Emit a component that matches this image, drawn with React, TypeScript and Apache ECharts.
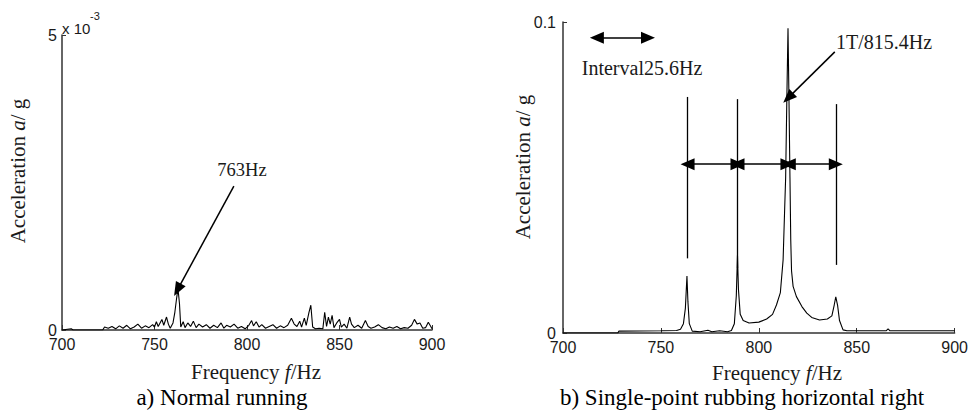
import React, { useEffect, useRef } from 'react';
import * as echarts from 'echarts';

// ---------- data ----------
// a) Normal running, amplitude in 10^-3 g
const leftFreq = [
  700, 705, 706, 722, 723, 725, 727, 729, 731, 733, 735, 737, 739, 741, 743, 745, 747, 749, 750, 751,
  752, 754, 755, 756.5, 757.5, 758.5, 760, 761, 762, 762.7, 763.5, 764.2, 765.5, 766.5, 768, 769.5, 771, 772.5, 774, 776,
  778, 780, 782, 784, 786, 787.5, 789, 791, 793, 795, 797, 799, 801, 802.5, 803.5, 805, 806.5, 808, 810, 812,
  814, 816, 818, 820, 822, 824, 825.5, 827, 828.5, 829.5, 831, 832, 833.5, 834.5, 835.5, 837, 839, 841, 842, 843,
  844, 845, 846, 847, 848.5, 850, 851, 852.5, 854, 855.5, 856.5, 858, 860, 862, 864, 865.5, 867, 869, 871, 873,
  875, 877, 879, 881, 883, 885, 887, 889, 890.5, 892, 893.5, 895, 896.5, 898, 899.5, 900,
];
const leftAmp = [
  0, 0.02, 0, 0, 0.05, 0.03, 0.06, 0.02, 0.07, 0.03, 0.08, 0.02, 0.05, 0.1, 0.03, 0.07, 0.04, 0.09, 0.05, 0.14,
  0.06, 0.18, 0.08, 0.22, 0.1, 0.03, 0.12, 0.3, 0.55, 0.7, 0.45, 0.05, 0.14, 0.04, 0.12, 0.06, 0.15, 0.04, 0.1, 0.05,
  0.09, 0.03, 0.08, 0.04, 0.12, 0.03, 0.08, 0.05, 0.1, 0.03, 0.06, 0.02, 0.08, 0.16, 0.07, 0.14, 0.05, 0.09, 0.03, 0.06,
  0.09, 0.03, 0.07, 0.04, 0.08, 0.2, 0.1, 0.06, 0.15, 0.05, 0.2, 0.08, 0.3, 0.42, 0.05, 0.02, 0.03, 0.02, 0.3, 0.06,
  0.22, 0.1, 0.25, 0.04, 0.12, 0.18, 0.05, 0.1, 0.03, 0.22, 0.1, 0.04, 0.08, 0.03, 0.16, 0.06, 0.03, 0.05, 0.09, 0.04,
  0.02, 0.05, 0.03, 0.06, 0.02, 0.04, 0.03, 0.08, 0.18, 0.1, 0.12, 0.03, 0.04, 0.13, 0.05, 0.02,
];

// b) Single-point rubbing horizontal right, amplitude in g
const rightFreq = [
  700, 728, 728.5, 750, 758, 760, 761.5, 762.5, 763.3, 763.8, 764.5, 766, 770, 774, 776, 780, 784, 786, 787.5, 788.5,
  789.1, 789.6, 790.5, 792, 795, 800, 804, 807, 809, 811, 812.4, 813.2, 813.7, 814.3, 814.9, 815.4, 815.9, 816.3, 816.7, 817.5,
  819.2, 822, 824.5, 827, 831, 835, 837.3, 838.5, 839.3, 840.2, 841.2, 843, 845, 865, 866, 867, 900,
];
const rightAmp = [
  0, 0, 0.0006, 0.0007, 0.0008, 0.0012, 0.003, 0.008, 0.0183, 0.01, 0.003, 0.0006, 0.0004, 0.0009, 0.0004, 0.0007, 0.0004, 0.0008, 0.003, 0.012,
  0.025, 0.014, 0.006, 0.004, 0.0032, 0.0035, 0.0045, 0.006, 0.009, 0.013, 0.0235, 0.04, 0.05, 0.075, 0.098, 0.075, 0.05, 0.03, 0.02, 0.015,
  0.0117, 0.0085, 0.0064, 0.005, 0.0042, 0.0045, 0.0055, 0.009, 0.0116, 0.009, 0.004, 0.001, 0.0007, 0.0007, 0.0013, 0.0007, 0.0007,
];

const xTickInterval = 50;
const sidebandFreqs = [763.6, 789.1, 839.3];
const sidebandTop = [0.0759, 0.0752, 0.0736];
const sidebandBottom = [0.024, 0.0209, 0.0219];
const spacingArrowFrom = [763.6, 789.1, 815.3];
const spacingArrowTo = [789.1, 814.6, 839.3];
const spacingArrowLevel = 0.0543;
const legendArrow = [717.3, 743.4];
const legendArrowLevel = 0.0949;
const rightPointer = [[838.8, 0.0904], [815.0, 0.0756]];
const leftPointer = [[792.9, 2.44], [762.4, 0.68]];

// ---------- styles ----------
const SANS = 'Liberation Sans, Arial, sans-serif';
const SERIF = 'Liberation Serif, Times New Roman, serif';
const AXIS_COLOR = '#333';
const TEXT_COLOR = '#1a1a1a';

function xAxis(gridIndex: number) {
  return {
    type: 'value',
    gridIndex,
    min: 700,
    max: 900,
    interval: xTickInterval,
    axisLine: { show: true, onZero: false, lineStyle: { color: AXIS_COLOR, width: 1.5 } },
    axisTick: { show: true, inside: true, length: 5, lineStyle: { color: AXIS_COLOR } },
    axisLabel: { fontFamily: SANS, fontSize: 16, color: TEXT_COLOR, margin: 6 },
    splitLine: { show: false },
  };
}

function yAxis(gridIndex: number, max: number, margin: number) {
  return {
    type: 'value',
    gridIndex,
    min: 0,
    max,
    interval: max,
    axisLine: { show: true, onZero: false, lineStyle: { color: AXIS_COLOR, width: 1.5 } },
    axisTick: { show: true, inside: true, length: 4, lineStyle: { color: AXIS_COLOR } },
    axisLabel: { fontFamily: SANS, fontSize: 16, color: TEXT_COLOR, margin, padding: [0, 0, 5, 0] },
    splitLine: { show: false },
  };
}

const zip = (a: number[], b: number[]) => a.map((v, i) => [v, b[i]]);

const arrowLine = { color: '#000', width: 1.5, type: 'solid' as const };

const serifRich = (size: number) => ({
  i: { fontFamily: SERIF, fontSize: size, fontStyle: 'italic', fill: TEXT_COLOR },
});

function buildOption() {
  return {
    animation: false,
    backgroundColor: '#fff',
    grid: [
      { left: 62, top: 35, width: 370, height: 295 },
      { left: 563, top: 22, width: 392, height: 311 },
    ],
    xAxis: [xAxis(0), xAxis(1)],
    yAxis: [yAxis(0, 5, 5), yAxis(1, 0.1, 7)],
    series: [
      {
        type: 'line',
        xAxisIndex: 0,
        yAxisIndex: 0,
        data: zip(leftFreq, leftAmp),
        showSymbol: false,
        symbol: 'none',
        lineStyle: { color: '#000', width: 1.1 },
        silent: true,
        markLine: {
          silent: true,
          symbol: ['none', 'triangle'],
          symbolSize: [11, 14],
          label: { show: false },
          lineStyle: arrowLine,
          emphasis: { disabled: true },
          data: [[{ coord: leftPointer[0] }, { coord: leftPointer[1] }]],
        },
      },
      {
        type: 'line',
        xAxisIndex: 1,
        yAxisIndex: 1,
        data: zip(rightFreq, rightAmp),
        showSymbol: false,
        symbol: 'none',
        lineStyle: { color: '#000', width: 1.1 },
        silent: true,
        markLine: {
          silent: true,
          symbol: ['none', 'none'],
          label: { show: false },
          lineStyle: { color: '#000', width: 1.3, type: 'solid' },
          emphasis: { disabled: true },
          data: sidebandFreqs.map((f, i) => [
            { coord: [f, sidebandTop[i]] },
            { coord: [f, sidebandBottom[i]] },
          ]),
        },
      },
      {
        type: 'line',
        xAxisIndex: 1,
        yAxisIndex: 1,
        data: [],
        silent: true,
        markLine: {
          silent: true,
          symbol: ['triangle', 'triangle'],
          symbolSize: [12, 14],
          label: { show: false },
          lineStyle: arrowLine,
          emphasis: { disabled: true },
          data: [
            ...spacingArrowFrom.map((f, i) => [
              { coord: [f, spacingArrowLevel] },
              { coord: [spacingArrowTo[i], spacingArrowLevel] },
            ]),
            [
              { coord: [legendArrow[0], legendArrowLevel] },
              { coord: [legendArrow[1], legendArrowLevel] },
            ],
          ],
        },
      },
      {
        type: 'line',
        xAxisIndex: 1,
        yAxisIndex: 1,
        data: [],
        silent: true,
        markLine: {
          silent: true,
          symbol: ['none', 'triangle'],
          symbolSize: [11, 14],
          label: { show: false },
          lineStyle: arrowLine,
          emphasis: { disabled: true },
          data: [[{ coord: rightPointer[0] }, { coord: rightPointer[1] }]],
        },
      },
    ],
    graphic: [
      // exponent of left y axis
      { type: 'text', x: 62, y: 28, style: { text: 'x 10', font: `15px ${SANS}`, fill: TEXT_COLOR, verticalAlign: 'middle', align: 'left' } },
      { type: 'text', x: 90, y: 16, style: { text: '-3', font: `11px ${SANS}`, fill: TEXT_COLOR, verticalAlign: 'middle', align: 'left' } },
      // y axis names
      {
        type: 'text', x: 18, y: 171, rotation: Math.PI / 2,
        style: {
          text: 'Acceleration {i|a}/ g', align: 'center', verticalAlign: 'middle',
          font: `21px ${SERIF}`, fill: TEXT_COLOR, rich: serifRich(21),
        },
      },
      {
        type: 'text', x: 523, y: 167, rotation: Math.PI / 2,
        style: {
          text: 'Acceleration {i|a}/ g', align: 'center', verticalAlign: 'middle',
          font: `21px ${SERIF}`, fill: TEXT_COLOR, rich: serifRich(21),
        },
      },
      // x axis names
      {
        type: 'text', x: 256, y: 372,
        style: {
          text: 'Frequency {i|f}/Hz', align: 'center', verticalAlign: 'middle',
          font: `21px ${SERIF}`, fill: TEXT_COLOR, rich: serifRich(21),
        },
      },
      {
        type: 'text', x: 777, y: 373,
        style: {
          text: 'Frequency {i|f}/Hz', align: 'center', verticalAlign: 'middle',
          font: `21px ${SERIF}`, fill: TEXT_COLOR, rich: serifRich(21),
        },
      },
      // captions
      { type: 'text', x: 222, y: 397, style: { text: 'a) Normal running', align: 'center', verticalAlign: 'middle', font: `23px ${SERIF}`, fill: '#000' } },
      { type: 'text', x: 742, y: 397, style: { text: 'b) Single-point rubbing horizontal right', align: 'center', verticalAlign: 'middle', font: `23px ${SERIF}`, fill: '#000' } },
      // annotations
      { type: 'text', x: 242, y: 170, style: { text: '763Hz', align: 'center', verticalAlign: 'middle', font: `18.5px ${SERIF}`, fill: TEXT_COLOR } },
      { type: 'text', x: 642, y: 68, style: { text: 'Interval25.6Hz', align: 'center', verticalAlign: 'middle', font: `20px ${SERIF}`, fill: TEXT_COLOR } },
      { type: 'text', x: 884, y: 42, style: { text: '1T/815.4Hz', align: 'center', verticalAlign: 'middle', font: `20px ${SERIF}`, fill: TEXT_COLOR } },
    ],
  };
}

export default function App() {
  const ref = useRef<HTMLDivElement>(null);
  useEffect(() => {
    if (!ref.current) return;
    const chart = echarts.init(ref.current, null, { renderer: 'svg' });
    chart.setOption(buildOption() as any);
    return () => chart.dispose();
  }, []);
  return (
    <div
      ref={ref}
      style={{ position: 'absolute', left: 0, top: 0, width: 971, height: 411, background: '#fff' }}
    />
  );
}
